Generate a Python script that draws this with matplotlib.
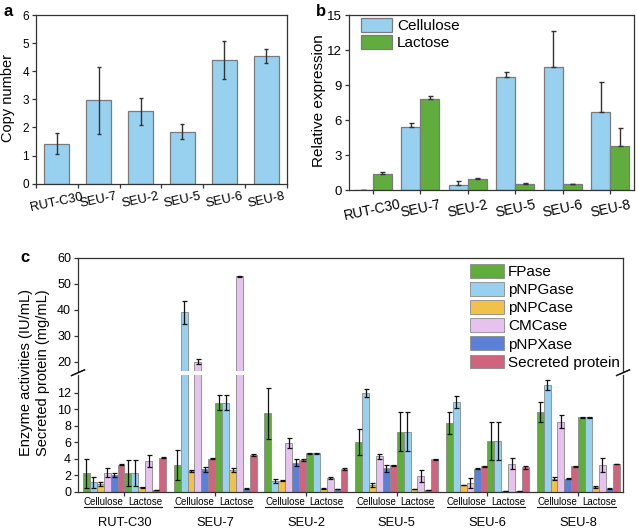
import numpy as np
import matplotlib
matplotlib.use('Agg')
import matplotlib.pyplot as plt
import matplotlib.patches as mpatches

plt.rcParams['font.family'] = ['Liberation Sans', 'DejaVu Sans']

W, H = 638, 529

strains = ['RUT-C30', 'SEU-7', 'SEU-2', 'SEU-5', 'SEU-6', 'SEU-8']
media = ['Cellulose', 'Lactose']

# a: copy number
copy_number = [1.42, 2.97, 2.57, 1.85, 4.40, 4.55]
copy_err = [0.37, 1.19, 0.47, 0.27, 0.67, 0.25]

# b: relative expression (error bars only upward)
expr_cellulose = [0.05, 5.45, 0.46, 9.72, 10.58, 6.73]
expr_cellulose_err = [0.0, 0.28, 0.34, 0.43, 3.08, 2.51]
expr_lactose = [1.37, 7.81, 0.94, 0.51, 0.51, 3.79]
expr_lactose_err = [0.17, 0.23, 0.14, 0.15, 0.06, 1.51]

# c: values per strain in order cellulose, lactose
enzymes = ['FPase', 'pNPGase', 'pNPCase', 'CMCase', 'pNPXase', 'Secreted protein']
fpase = [2.2, 2.25, 3.2, 10.8, 9.5, 4.63, 6.0, 7.26, 8.3, 6.13, 9.66, 9.0]
fpase_err = [1.8, 1.6, 1.85, 0.9, 3.1, 0.05, 1.6, 2.35, 1.3, 2.35, 1.2, 0.05]
pnpgase = [1.1, 2.25, 39.0, 10.8, 1.27, 4.63, 11.95, 7.26, 10.83, 6.13, 12.9, 9.0]
pnpgase_err = [0.65, 1.6, 4.4, 0.9, 0.25, 0.05, 0.5, 2.35, 0.75, 2.35, 0.6, 0.05]
pnpcase = [0.93, 0.5, 2.5, 2.6, 1.3, 0.35, 0.8, 0.3, 0.79, 0.1, 1.55, 0.55]
pnpcase_err = [0.25, 0.03, 0.1, 0.2, 0.05, 0.03, 0.2, 0.03, 0.05, 0.02, 0.2, 0.1]
cmcase = [2.3, 3.7, 20.0, 52.8, 5.85, 1.63, 4.3, 1.9, 1.07, 3.38, 8.48, 3.26]
cmcase_err = [0.5, 0.75, 1.0, 0.2, 0.6, 0.1, 0.3, 0.7, 0.6, 0.7, 0.75, 0.85]
pnpxase = [2.0, 0.2, 2.7, 0.35, 3.5, 0.3, 2.8, 0.15, 2.77, 0.08, 1.56, 0.35]
pnpxase_err = [0.2, 0.02, 0.3, 0.03, 0.4, 0.03, 0.45, 0.02, 0.05, 0.02, 0.05, 0.03]
protein = [3.26, 4.1, 4.0, 4.45, 3.8, 2.7, 3.17, 3.92, 3.06, 2.93, 3.06, 3.34]
protein_err = [0.05, 0.05, 0.05, 0.1, 0.15, 0.15, 0.05, 0.05, 0.05, 0.2, 0.05, 0.05]

c_light_blue = '#97d1ef'
c_green = '#60ad3d'
enzyme_colors = [c_green, c_light_blue, '#f2c14a', '#e6c3ef', '#5c80d6', '#d0647c']
edge = '#7a7a7a'


def px_axes(fig, x0, y0, x1, y1):
    return fig.add_axes([x0 / W, 1 - y1 / H, (x1 - x0) / W, (y1 - y0) / H])


def style_spines(ax):
    for sp in ax.spines.values():
        sp.set_linewidth(0.9)
        sp.set_color('#333333')
    ax.tick_params(width=0.9, length=3, color='#333333', pad=2)


fig = plt.figure(figsize=(W / 100, H / 100), dpi=100)

# ---------------- a
ax = px_axes(fig, 36, 15, 287, 183.7)
style_spines(ax)
xa = np.arange(len(strains))
ax.bar(xa, copy_number, 0.6, color=c_light_blue, edgecolor=edge, linewidth=0.9)
ax.errorbar(xa, copy_number, yerr=copy_err, fmt='none', ecolor='#333333',
            elinewidth=1, capsize=1.6, capthick=1)
ax.set_xlim(-0.5, 5.5)
ax.set_ylim(0, 6)
ax.set_yticks(range(7))
ax.tick_params(axis='y', labelsize=8.5)
ax.set_xticks(xa)
ax.set_xticklabels(strains, rotation=12, fontsize=9.3)
ax.tick_params(axis='x', which='major', length=0, pad=5)
ax.set_xticks(np.arange(-0.5, 6, 1), minor=True)
ax.tick_params(axis='x', which='minor', length=3, width=0.9, color='#333333')
fig.text(8 / W, 1 - 98 / H, 'Copy number', rotation=90, ha='center', va='center', fontsize=10.5)
fig.text(4 / W, 1 - 4 / H, 'a', fontsize=12, fontweight='bold', ha='left', va='top')

# ---------------- b
ax = px_axes(fig, 349, 15, 634, 190.3)
style_spines(ax)
xb = np.arange(len(strains))
bw = 0.4
ax.bar(xb - bw / 2, expr_cellulose, bw, color=c_light_blue, edgecolor=edge, linewidth=0.9, label='Cellulose')
ax.bar(xb + bw / 2, expr_lactose, bw, color=c_green, edgecolor=edge, linewidth=0.9, label='Lactose')
ax.errorbar(xb - bw / 2, expr_cellulose, yerr=[np.zeros(6), expr_cellulose_err], fmt='none',
            ecolor='#333333', elinewidth=1, capsize=1.8, capthick=1)
ax.errorbar(xb + bw / 2, expr_lactose, yerr=[np.zeros(6), expr_lactose_err], fmt='none',
            ecolor='#333333', elinewidth=1, capsize=1.8, capthick=1)
ax.set_xlim(-0.5, 5.5)
ax.set_ylim(0, 15)
ax.set_yticks([0, 3, 6, 9, 12, 15])
ax.tick_params(axis='y', labelsize=9.5)
ax.set_xticks(xb)
ax.set_xticklabels(strains, rotation=12, fontsize=10)
ax.legend(loc='upper left', bbox_to_anchor=(0.042, 0.983), frameon=False, fontsize=11,
          handlelength=2.0, handleheight=1.05, labelspacing=0.12, handletextpad=0.35,
          borderpad=0, borderaxespad=0)
fig.text(319 / W, 1 - 101 / H, 'Relative expression', rotation=90, ha='center', va='center', fontsize=11)
fig.text(316 / W, 1 - 4 / H, 'b', fontsize=12, fontweight='bold', ha='left', va='top')

# ---------------- c (broken axis)
ax_up = px_axes(fig, 78, 257.7, 623, 371)
ax_lo = px_axes(fig, 78, 374.5, 623, 491.5)
P = 13.12
xc = np.array([s * P + m * 6 for s in range(len(strains)) for m in range(len(media))])
series = [(fpase, fpase_err), (pnpgase, pnpgase_err), (pnpcase, pnpcase_err),
          (cmcase, cmcase_err), (pnpxase, pnpxase_err), (protein, protein_err)]
for a in (ax_up, ax_lo):
    style_spines(a)
    for e, (vals, errs) in enumerate(series):
        x = xc + e + 0.5
        a.bar(x, vals, 1.0, color=enzyme_colors[e], edgecolor='#8a8a8a', linewidth=0.6,
              label=enzymes[e])
        a.errorbar(x, vals, yerr=errs, fmt='none', ecolor='#111111', elinewidth=0.9,
                   capsize=1.8, capthick=0.9)
    a.set_xlim(-0.72, 5 * P + 12.48)
    a.tick_params(axis='y', labelsize=9)

ax_up.set_ylim(16.4, 60)
ax_up.set_yticks([20, 30, 40, 50, 60])
ax_up.spines['bottom'].set_visible(False)
ax_up.tick_params(axis='x', bottom=False, labelbottom=False)
ax_lo.set_ylim(0, 14.2)
ax_lo.set_yticks(range(0, 13, 2))
ax_lo.spines['top'].set_visible(False)
ax_lo.set_xticks([s * P + 6 for s in range(len(strains))])
ax_lo.set_xticklabels([])

# break marks
d = 0.012
kw = dict(color='#111111', lw=0.9, clip_on=False)
for xx in (0, 1):
    ax_up.plot([xx - d, xx + d], [-0.04, 0.01], transform=ax_up.transAxes, **kw)
    ax_lo.plot([xx - d, xx + d], [0.99, 1.04], transform=ax_lo.transAxes, **kw)

# group labels under the lower axis
tr = ax_lo.get_xaxis_transform()
for s, name in enumerate(strains):
    x0 = s * P
    ax_lo.text(x0 + 3, -0.087, media[0], transform=tr, ha='center', va='center', fontsize=7)
    ax_lo.text(x0 + 9, -0.087, media[1], transform=tr, ha='center', va='center', fontsize=7)
    ax_lo.plot([x0 + 0.1, x0 + 11.4], [-0.135, -0.135], transform=tr, color='#111111',
               lw=0.8, clip_on=False)
    ax_lo.text(x0 + 6, -0.27, name, transform=tr, ha='center', va='center', fontsize=9.3)

handles = [mpatches.Patch(facecolor=c, edgecolor='#8a8a8a', linewidth=0.6) for c in enzyme_colors]
ax_up.legend(handles, enzymes, loc='upper left', bbox_to_anchor=((470 - 78) / 545, 0.945),
             frameon=False, fontsize=11, handlelength=2.2, handleheight=1.0,
             labelspacing=0.2, handletextpad=0.3, borderpad=0, borderaxespad=0)

fig.text(26 / W, 1 - 373 / H, 'Enzyme activities (IU/mL)', rotation=90, ha='center', va='center', fontsize=10.5)
fig.text(43 / W, 1 - 373 / H, 'Secreted protein (mg/mL)', rotation=90, ha='center', va='center', fontsize=10.5)
fig.text(20 / W, 1 - 250 / H, 'c', fontsize=12, fontweight='bold', ha='left', va='top')

fig.savefig('out.png', dpi=100)
